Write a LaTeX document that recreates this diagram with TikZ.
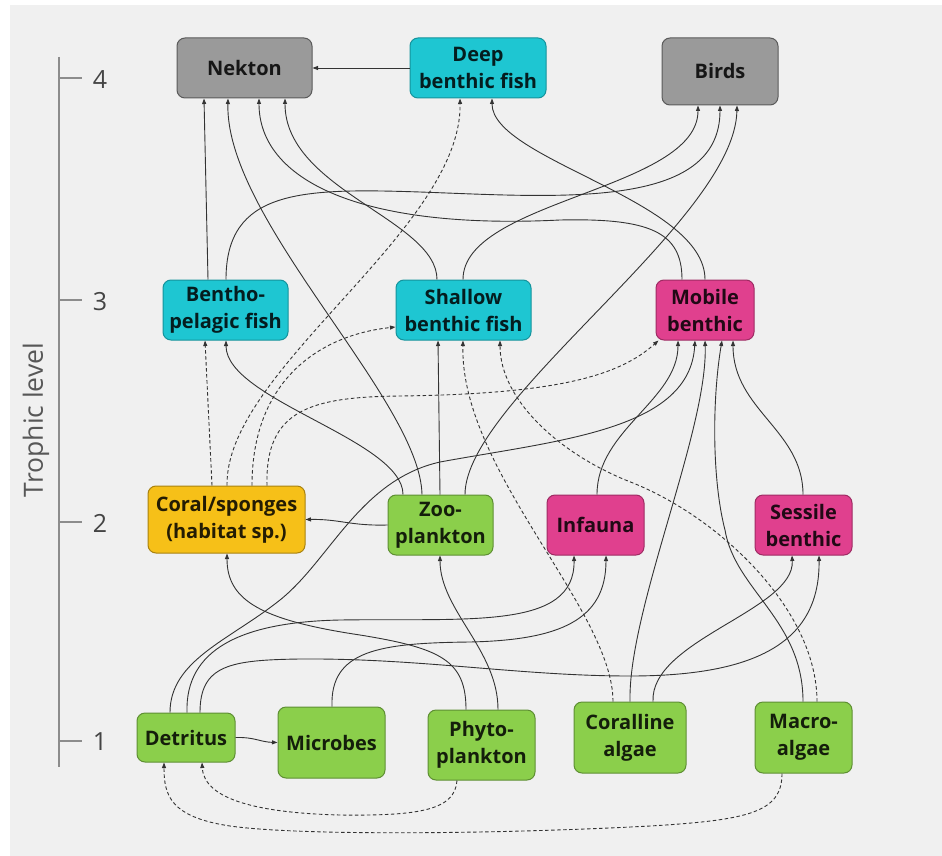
\documentclass[tikz,border=0pt]{standalone}
\usepackage{fontspec}
\setmainfont{Open Sans}
\usetikzlibrary{arrows.meta}
\definecolor{bgc}{HTML}{F0F0F0}
\definecolor{grayfill}{HTML}{9A9A9A}
\definecolor{grayline}{HTML}{5A5A5A}
\definecolor{cyanfill}{HTML}{1EC6D2}
\definecolor{cyanline}{HTML}{15939C}
\definecolor{magfill}{HTML}{E0408E}
\definecolor{magline}{HTML}{9E2B63}
\definecolor{yelfill}{HTML}{F6C018}
\definecolor{yelline}{HTML}{A9820F}
\definecolor{grnfill}{HTML}{8BCF4B}
\definecolor{grnline}{HTML}{5E8F33}
\definecolor{linec}{HTML}{333333}
\definecolor{axisc}{HTML}{8C8C8C}
\definecolor{labc}{HTML}{444444}
\begin{document}
\begin{tikzpicture}[x=1pt,y=-1pt,
  box/.style n args={2}{draw, rounded corners=8pt, line width=1pt, inner sep=0pt,
    minimum width=#1pt, minimum height=#2pt, align=center,
    font=\fontsize{20}{27}\selectfont\bfseries, text=black, text opacity=0.85},
  grayb/.style={fill=grayfill, draw=grayline},
  cyanb/.style={fill=cyanfill, draw=cyanline},
  magb/.style={fill=magfill, draw=magline},
  yelb/.style={fill=yelfill, draw=yelline},
  grnb/.style={fill=grnfill, draw=grnline},
  edge/.style={draw=linec, line width=0.9pt, -{Triangle[length=5.5pt,width=4pt]}},
  dedge/.style={edge, dash pattern=on 3.5pt off 2.5pt},
  axisline/.style={draw=axisc, line width=1.2pt},
  lab/.style={font=\fontsize{25}{29}\selectfont, text=labc, inner sep=0pt}
]
\useasboundingbox (0,0) rectangle (942,856);
\fill[white] (0,0) rectangle (942,856);
\fill[bgc] (10,5) rectangle (942,856);

% axis
\draw[axisline] (59,57) -- (59,767);
\draw[axisline] (59,78) -- (82,78);
\draw[axisline] (59,300) -- (82,300);
\draw[axisline] (59,522) -- (82,522);
\draw[axisline] (59,741) -- (82,741);
\node[lab] (l4) at (100,80) {4};
\node[lab] (l3) at (100,302) {3};
\node[lab] (l2) at (100,523) {2};
\node[lab] (l1) at (100,742) {1};
\node[lab, font=\fontsize{26.5}{30}\selectfont, text=labc!90, rotate=90] (title) at (36,420) {Trophic level};

% nodes
\node[box={135}{60}, grayb] (nekton) at (244.5,68) {Nekton};
\node[box={136}{60}, cyanb] (deep) at (478,68) {Deep\\benthic fish};
\node[box={116}{67}, grayb] (birds) at (720,71.5) {Birds};
\node[box={125}{60}, cyanb] (bentho) at (225.5,310) {Bentho-\\pelagic fish};
\node[box={135}{60}, cyanb] (shallow) at (463.5,310) {Shallow\\benthic fish};
\node[box={98}{60}, magb] (mobile) at (705,310) {Mobile\\benthic};
\node[box={157}{67}, yelb] (coral) at (226.5,519.5) {Coral/sponges\\(habitat sp.)};
\node[box={105}{60}, grnb] (zoo) at (440.5,525) {Zoo-\\plankton};
\node[box={97}{60}, magb] (infauna) at (595.5,525) {Infauna};
\node[box={97}{60}, magb] (sessile) at (803.5,525) {Sessile\\benthic};
\node[box={98}{49}, grnb] (detritus) at (186,737.5) {Detritus};
\node[box={107}{71}, grnb] (microbes) at (331.5,742.5) {Microbes};
\node[box={107}{70}, grnb] (phyto) at (481.5,745) {Phyto-\\plankton};
\node[box={112}{71}, grnb] (coralline) at (630,737.5) {Coralline\\algae};
\node[box={97}{71}, grnb] (macro) at (803.5,737.5) {Macro-\\algae};

% edges into Nekton
\draw[edge] ([xshift=-17.5pt]bentho.north) -- ([xshift=-40.5pt]nekton.south);
\draw[edge] ([xshift=-18.5pt]zoo.north) .. controls (420,400) and (225,220) .. ([xshift=-16.5pt]nekton.south);
\draw[edge] ([xshift=-23pt]mobile.north) .. controls (682,232) and (650,218) .. (560,220) .. controls (360,230) and (259,180) .. ([xshift=14.5pt]nekton.south);
\draw[edge] ([xshift=-26.5pt]shallow.north) .. controls (437,220) and (285,190) .. ([xshift=40.5pt]nekton.south);
\draw[edge] (deep.west) -- (nekton.east);

% Deep benthic fish
\draw[dedge] ([xshift=0.5pt]coral.north) .. controls (225,370) and (462,230) .. ([xshift=-18pt]deep.south);
\draw[edge] (mobile.north) .. controls (705,200) and (492,160) .. ([xshift=14pt]deep.south);

% Birds
\draw[edge] ([xshift=24.5pt]zoo.north) .. controls (465,400) and (735,220) .. ([xshift=17pt]birds.south);
\draw[edge] ([xshift=0.5pt]bentho.north) .. controls (226,190) and (300,188) .. (420,192) .. controls (560,197) and (720,210) .. (birds.south);
\draw[edge] ([xshift=-0.5pt]shallow.north) .. controls (463,200) and (698,190) .. ([xshift=-22pt]birds.south);

% Bentho-pelagic
\draw[dedge] ([xshift=-14.5pt]coral.north) -- ([xshift=-20.5pt]bentho.south);
\draw[edge] ([xshift=-37.5pt]zoo.north) .. controls (403,440) and (226,400) .. ([xshift=0.5pt]bentho.south);

% Shallow benthic fish
\draw[dedge] ([xshift=25.5pt]coral.north) .. controls (252,380) and (320,335) .. ([yshift=-17pt]shallow.west);
\draw[edge] ([xshift=-0.5pt]zoo.north) -- ([xshift=-25.5pt]shallow.south);
\draw[dedge] ([xshift=-17pt]coralline.north) .. controls (613,610) and (460,470) .. ([xshift=-0.5pt]shallow.south);
\draw[dedge] ([xshift=13.5pt]macro.north) .. controls (817,610) and (720,518) .. (633,483) .. controls (560,455) and (500,400) .. ([xshift=36.5pt]shallow.south);

% Mobile benthic
\draw[dedge] ([xshift=40.5pt]coral.north) .. controls (265,410) and (310,397) .. (400,396) .. controls (560,394) and (620,375) .. ([xshift=3pt]mobile.south west);
\draw[edge] ([xshift=1.5pt]infauna.north) .. controls (597,430) and (678,400) .. ([xshift=-27pt]mobile.south);
\draw[edge] ([xshift=-16pt]detritus.north) .. controls (170,660) and (230,640) .. (280,600) .. controls (330,560) and (360,480) .. (440,462) .. controls (560,440) and (690,430) .. ([xshift=-10pt]mobile.south);
\draw[edge] (coralline.north) .. controls (628,610) and (708,430) .. (mobile.south);
\draw[edge] ([xshift=-0.5pt]macro.north) .. controls (803,620) and (735,590) .. (725,530) .. controls (712,480) and (712,400) .. ([xshift=17pt]mobile.south);
\draw[edge] ([xshift=-0.5pt]sessile.north) .. controls (803,430) and (733,410) .. ([xshift=28pt]mobile.south);

% Sessile benthic
\draw[edge] ([xshift=23pt]coralline.north) .. controls (650,640) and (795,610) .. ([xshift=-11.5pt]sessile.south);
\draw[edge] ([xshift=14pt]detritus.north) .. controls (200,665) and (230,660) .. (300,659) .. controls (420,658) and (520,676) .. (630,676) .. controls (760,676) and (820,640) .. ([xshift=15.5pt]sessile.south);

% Infauna
\draw[edge] ([xshift=1pt]detritus.north) .. controls (185,650) and (240,622) .. (340,620) .. controls (470,618) and (575,630) .. ([xshift=-21.5pt]infauna.south);
\draw[edge] ([xshift=0.5pt]microbes.north) .. controls (330,650) and (380,643) .. (470,642) .. controls (560,640) and (606,620) .. ([xshift=10.5pt]infauna.south);

% Zooplankton and Coral
\draw[edge] ([xshift=16.5pt]phyto.north) .. controls (498,650) and (440,610) .. ([xshift=-0.5pt]zoo.south);
\draw[edge] ([xshift=-15.5pt]phyto.north) .. controls (466,660) and (440,648) .. (360,635) .. controls (260,620) and (227,600) .. ([xshift=0.5pt]coral.south);
\draw[edge] (zoo.west) .. controls (350,526) and (340,519) .. (coral.east);

% Detritus / Microbes
\draw[edge] (detritus.east) .. controls (255,737) and (260,742) .. (microbes.west);
\draw[dedge] ([xshift=-24.5pt]phyto.south) .. controls (455,810) and (420,816) .. (340,815) .. controls (260,813) and (204,800) .. ([xshift=16pt]detritus.south);
\draw[dedge] ([xshift=-21.5pt]macro.south) .. controls (782,812) and (750,820) .. (650,826) .. controls (500,834) and (300,836) .. (230,826) .. controls (170,817) and (164,795) .. ([xshift=-22pt]detritus.south);
\end{tikzpicture}
\end{document}
